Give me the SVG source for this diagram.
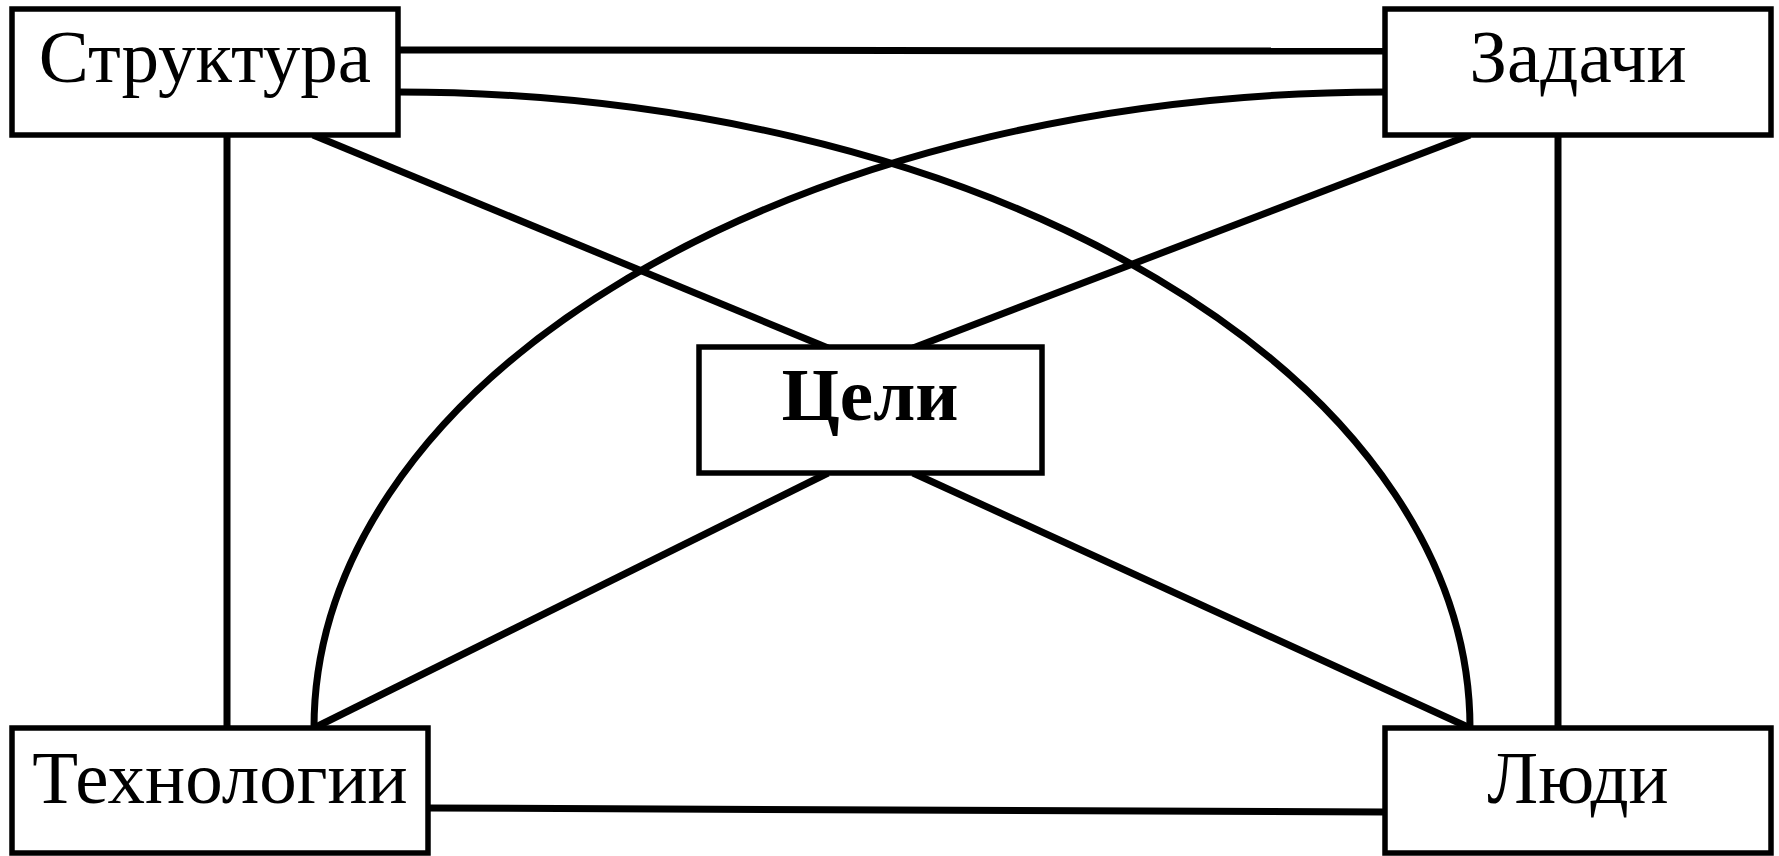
<svg xmlns="http://www.w3.org/2000/svg" width="1779" height="856" viewBox="0 0 1779 856">
<style>
.box{fill:#fff;stroke:#000;stroke-width:5.5}
.lbl{font-family:"Liberation Serif","Times New Roman",serif;font-size:75px;fill:#000;text-anchor:middle}
.b{font-weight:bold}
.c{fill:none;stroke:#000;stroke-width:7}
</style>
<rect width="1779" height="856" fill="#fff"/>
<g id="connectors">
<line class="c" x1="398" y1="50" x2="1385" y2="51"/>
<path class="c" d="M398,92 A1072,636 0 0 1 1470,728"/>
<path class="c" d="M1385,92 A1071,636 0 0 0 314,728"/>
<line class="c" x1="313" y1="135" x2="828" y2="348"/>
<line class="c" x1="1470" y1="135" x2="913" y2="348"/>
<line class="c" x1="828" y1="473" x2="314" y2="728"/>
<line class="c" x1="913" y1="473" x2="1470" y2="728"/>
<line class="c" x1="227" y1="135" x2="227" y2="728"/>
<line class="c" x1="1558" y1="135" x2="1558" y2="728"/>
<line class="c" x1="428" y1="808" x2="1385" y2="812"/>
</g>
<g id="node-struktura">
<rect class="box" x="12" y="9" width="386" height="126"/>
<text class="lbl" x="205" y="82">Структура</text>
</g>
<g id="node-zadachi">
<rect class="box" x="1385" y="9" width="386" height="126"/>
<text class="lbl" x="1578" y="82">Задачи</text>
</g>
<g id="node-tekhnologii">
<rect class="box" x="12" y="728" width="416" height="125"/>
<text class="lbl" x="220" y="803">Технологии</text>
</g>
<g id="node-lyudi">
<rect class="box" x="1385" y="728" width="386" height="125"/>
<text class="lbl" x="1578" y="803">Люди</text>
</g>
<g id="node-tseli">
<rect class="box" x="699" y="347" width="343" height="126"/>
<text class="lbl b" x="870" y="420">Цели</text>
</g>
</svg>
